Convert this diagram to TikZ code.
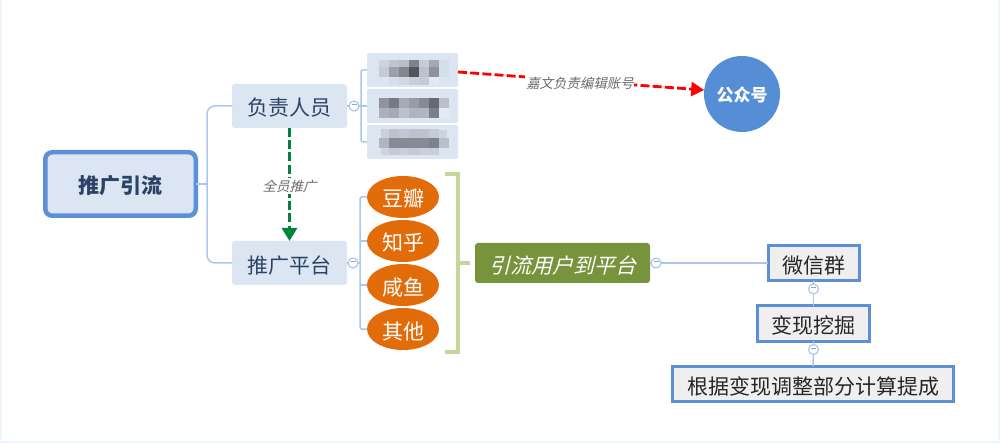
\documentclass[tikz,border=0pt]{standalone}
\usepackage{fontspec}
\setmainfont{Noto Sans CJK SC}
\newfontfamily\slantcjk[FakeSlant=0.25]{Noto Sans CJK SC}
\usetikzlibrary{shapes.geometric,arrows.meta}
\definecolor{edgeblue}{HTML}{A9C8F0}
\definecolor{borderblue}{HTML}{5B8FD6}
\definecolor{palefill}{HTML}{DCE6F2}
\definecolor{navytext}{HTML}{2B4366}
\definecolor{orangefill}{HTML}{E36C0A}
\definecolor{oliveg}{HTML}{77933C}
\definecolor{bracketg}{HTML}{C3D69B}
\definecolor{boxgrey}{HTML}{EFEFEF}
\definecolor{circblue}{HTML}{558ED5}
\definecolor{arrowgreen}{HTML}{00843D}
\definecolor{pagebg}{HTML}{F1F4FA}
\newcommand{\fs}[1]{\fontsize{#1}{#1}\selectfont}
\newcommand{\mosaic}[5]{\definecolor{tmpmos}{HTML}{#5}\fill[tmpmos] (#1,#2) rectangle ++(#3,#4);}
\tikzset{
  every node/.style={inner sep=0pt,outer sep=0pt},
  conn/.style={draw=edgeblue,line width=1.5pt},
  bigtext/.style={text height=22.5pt,text depth=2.5pt},
  rootbox/.style={bigtext,draw=borderblue,line width=4.5pt,fill=palefill,rounded corners=7pt,minimum width=150.5pt,minimum height=63.5pt,text=navytext,font=\fs{21}\bfseries},
  subbox/.style={bigtext,fill=palefill,rounded corners=3pt,minimum width=115pt,minimum height=44pt,text=navytext,font=\fs{21}},
  blurbox/.style={fill=palefill,rounded corners=2pt,minimum width=91pt,minimum height=34pt},
  oval/.style={bigtext,ellipse,fill=orangefill,minimum width=72pt,minimum height=42pt,text=white,font=\fs{21}},
  olivebox/.style={bigtext,fill=oliveg,rounded corners=3pt,minimum width=175pt,minimum height=40pt,text=white,font=\fs{21}\slantcjk},
  greybox/.style={bigtext,draw=borderblue,line width=2.8pt,fill=boxgrey,minimum height=35.5pt,text=black!85,font=\fs{21}},
  toggle/.style={circle,draw=edgeblue,line width=1.2pt,fill=white,minimum size=10pt},
  linklabel/.style={text height=14pt,text depth=2pt,fill=white,text=black!58,font=\fs{13.4}\slantcjk,inner xsep=1pt,inner ysep=0pt},
  dashlink/.style={line width=2.8pt,dash pattern=on 9pt off 3.2pt},
}
\newcommand{\tg}{\textcolor{edgeblue!85!black}{\rule[2.5pt]{5pt}{0.8pt}}}
\begin{document}
\begin{tikzpicture}[x=1pt,y=-1pt]
\useasboundingbox (0,0) rectangle (1000,443);
\fill[pagebg] (0,0) rectangle (1000,443);
\fill[white] (1.5,0) rectangle (997.5,440.5);

% nodes
\node[rootbox] (root) at (120.5,184) {推广引流};
\node[subbox] (fz) at (289.5,106) {负责人员};
\node[subbox] (tg) at (289.5,263) {推广平台};
\node[blurbox] (b1) at (412.5,70) {};
\node[blurbox] (b2) at (412.5,106) {};
\node[blurbox] (b3) at (412.5,142) {};
\node[oval] (e1) at (403,197) {豆瓣};
\node[oval] (e2) at (403,241) {知乎};
\node[oval] (e3) at (403,285) {咸鱼};
\node[oval] (e4) at (403,329) {其他};
\node[olivebox] (yl) at (562.5,263) {引流用户到平台};
\node[greybox,minimum width=91.5pt] (wx) at (814,263) {微信群};
\node[greybox,minimum width=112.5pt] (bx) at (813.5,323.5) {变现挖掘};
\node[greybox,minimum width=281.5pt] (gj) at (813,384) {根据变现调整部分计算提成};
\node[circle,fill=circblue,minimum size=76pt,text=white,text height=18pt,text depth=2pt,font=\fs{17}\bfseries] (gzh) at (742,94) {公众号};

% mosaics over the three blurred boxes
\mosaic{379.3}{60}{10}{7.3}{CDD4DF}\mosaic{389.3}{60}{10}{7.3}{BFC5D0}\mosaic{399.3}{60}{10}{7.3}{B8BEC9}\mosaic{409.3}{60}{10}{7.3}{7D828C}\mosaic{419.3}{60}{10}{7.3}{C5CCD8}\mosaic{429.3}{60}{10}{7.3}{A3A9B3}\mosaic{439.3}{60}{10}{7.3}{D5DEEB}
\mosaic{379.3}{67.3}{10}{10}{C4CBD6}\mosaic{389.3}{67.3}{10}{10}{9AA1AD}\mosaic{399.3}{67.3}{10}{10}{81868F}\mosaic{409.3}{67.3}{10}{10}{52555C}\mosaic{419.3}{67.3}{10}{10}{BCC2CD}\mosaic{429.3}{67.3}{10}{10}{8D939E}\mosaic{439.3}{67.3}{10}{10}{D5DEEB}
\mosaic{389.3}{77.3}{10}{8}{D5DEEB}\mosaic{399.3}{77.3}{10}{8}{D0D8E4}\mosaic{409.3}{77.3}{10}{8}{C8CFDB}\mosaic{419.3}{77.3}{10}{8}{C4CBD7}\mosaic{429.3}{77.3}{10}{8}{E3EAF5}

\mosaic{379.3}{97.7}{10}{10.3}{8F939C}\mosaic{389.3}{97.7}{10}{10.3}{767A84}\mosaic{399.3}{97.7}{10}{10.3}{A5ABB6}\mosaic{409.3}{97.7}{10}{10.3}{979DA8}\mosaic{419.3}{97.7}{10}{10.3}{868A93}\mosaic{429.3}{97.7}{10}{10.3}{666A75}\mosaic{439.3}{97.7}{10}{10.3}{B8C0CC}
\mosaic{379.3}{108}{10}{10.3}{ABB0BA}\mosaic{389.3}{108}{10}{10.3}{A4A9B4}\mosaic{399.3}{108}{10}{10.3}{BCC2CD}\mosaic{409.3}{108}{10}{10.3}{AFB5C0}\mosaic{419.3}{108}{10}{10.3}{B0B6C1}\mosaic{429.3}{108}{10}{10.3}{7B7F89}\mosaic{439.3}{108}{10}{10.3}{E3EAF5}

\mosaic{381}{129.5}{8.3}{8.8}{CBD1DC}\mosaic{389.3}{128.7}{10}{9.6}{BCC2CD}\mosaic{399.3}{128.7}{10}{9.6}{C2C8D3}\mosaic{409.3}{128.7}{10}{9.6}{BCC2CD}\mosaic{419.3}{128.7}{10}{9.6}{BCC2CD}\mosaic{429.3}{128.7}{10}{9.6}{C5CCD6}\mosaic{439.3}{130}{8}{8.3}{CDD4DF}
\mosaic{379.3}{138.3}{10}{10}{B0B6C1}\mosaic{389.3}{138.3}{10}{10}{858A93}\mosaic{399.3}{138.3}{10}{10}{858A93}\mosaic{409.3}{138.3}{10}{10}{858A93}\mosaic{419.3}{138.3}{10}{10}{858A93}\mosaic{429.3}{138.3}{10}{10}{7A8290}\mosaic{439.3}{138.3}{10}{10}{B9C0CB}
\mosaic{381}{148.3}{8.3}{6.5}{CDD4DF}\mosaic{389.3}{148.3}{10}{6.7}{C4CAD5}\mosaic{399.3}{148.3}{10}{6.7}{CAD0DB}\mosaic{409.3}{148.3}{10}{6.7}{C4CAD5}\mosaic{419.3}{148.3}{10}{6.7}{C8CFDA}\mosaic{429.3}{148.3}{10}{6.7}{C8CFDA}

% junction points
\coordinate (rj) at (207,184);
\coordinate (j1) at (361,106);
\coordinate (j2) at (360,263);

% tree connectors
\draw[conn] (root.east) -- (rj);
\draw[conn,rounded corners=8pt] (fz.west) -| (rj) |- (tg.west);

\node[toggle] (t1) at (354,106) {\tg};
\draw[conn] (fz.east) -- (t1.west);
\draw[conn] (t1.east) -- (b2.west);
\draw[conn,rounded corners=1.5pt] (b1.west) -| (j1) |- (b3.west);

\node[toggle] (t2) at (353,263) {\tg};
\draw[conn] (tg.east) -- (t2.west);
\draw[conn] (t2.east) -- (j2);
\draw[conn,rounded corners=1.5pt] (e1.west) -| (j2) |- (e4.west);
\draw[conn] (e2.west) -- (e2.west -| j2);
\draw[conn] (e3.west) -- (e3.west -| j2);

% bracket
\coordinate (brj) at (458,263);
\coordinate (brk) at (470,263);
\draw[bracketg,line width=4pt] (445,174.5) -- (458,174.5) -- (458,351.5) -- (445,351.5);
\draw[bracketg,line width=4pt] (brj) -- (brk);

% right-hand chain
\node[toggle] (t3) at (656,263) {\tg};
\draw[conn] (yl.east) -- (t3.west);
\draw[conn] (t3.east) -- (wx.west);
\node[toggle] (t4) at (813.5,289) {\tg};
\draw[conn] (wx.south) -- (t4.north);
\draw[conn] (t4.south) -- (bx.north);
\node[toggle] (t5) at (813.5,349.5) {\tg};
\draw[conn] (bx.south) -- (t5.north);
\draw[conn] (t5.south) -- (gj.north);

% relationship links
\coordinate (ra) at (458,72);
\draw[red,dashlink,-{Triangle[length=13pt,width=14pt]}] (ra) -- (gzh.174)
  node[linklabel,pos=0.495,yshift=-2pt] (rl) {嘉文负责编辑账号};
\draw[arrowgreen,dashlink,-{Triangle[length=13pt,width=15pt]}] (fz.south) -- (tg.north)
  node[linklabel,pos=0.51] (gl) {全员推广};
\end{tikzpicture}
\end{document}
